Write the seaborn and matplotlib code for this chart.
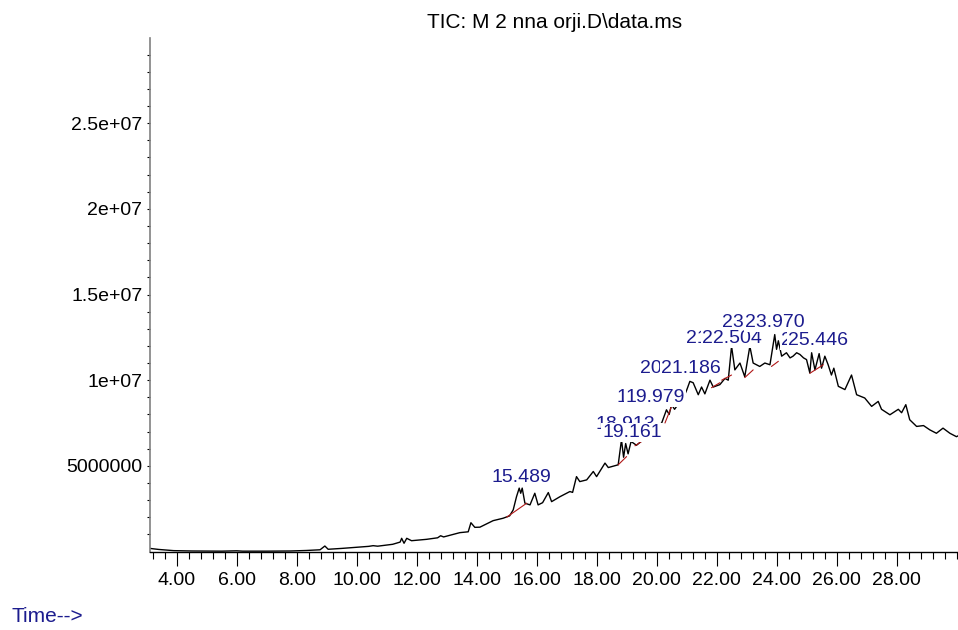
import numpy as np
import matplotlib
matplotlib.use("Agg")
import matplotlib.pyplot as plt
import seaborn as sns
import pandas as pd

# TIC trace: retention time (min) / abundance (millions)
rt = [3.11, 3.4, 3.9, 4.5, 5.5, 6.0, 6.2, 7.0, 7.8, 8.33, 8.78, 8.94, 9.05, 9.5,
      10.0, 10.4, 10.55, 10.7, 11.2, 11.45, 11.5, 11.58, 11.67, 11.83, 12.33, 12.7,
      12.8, 12.9, 13.44, 13.72, 13.81, 13.94, 14.11, 14.55, 14.88, 15.1, 15.22, 15.33,
      15.42, 15.47, 15.52, 15.61, 15.78, 15.94, 16.05, 16.2, 16.39, 16.5, 16.78, 17.11,
      17.2, 17.33, 17.44, 17.67, 17.89, 18.0, 18.28, 18.39, 18.72, 18.83, 18.9, 18.97,
      19.05, 19.15, 19.33, 19.55, 19.8, 20.0, 20.17, 20.33, 20.42, 20.5, 20.6, 20.72,
      20.85, 21.0, 21.11, 21.22, 21.39, 21.5, 21.61, 21.78, 21.89, 22.11, 22.28, 22.39,
      22.5, 22.61, 22.78, 22.94, 23.11, 23.22, 23.44, 23.61, 23.78, 23.94, 24.0, 24.06,
      24.17, 24.33, 24.45, 24.55, 24.67, 24.78, 24.9, 25.0, 25.11, 25.17, 25.28, 25.42,
      25.5, 25.61, 25.72, 25.83, 25.91, 26.06, 26.28, 26.5, 26.67, 26.94, 27.17, 27.39,
      27.5, 27.78, 28.06, 28.17, 28.31, 28.44, 28.67, 28.9, 29.11, 29.33, 29.55, 29.78,
      30.0, 30.05]
abund_m = [0.18, 0.12, 0.05, 0.03, 0.02, 0.04, 0.02, 0.02, 0.03, 0.06, 0.10, 0.32, 0.13, 0.18,
           0.25, 0.30, 0.34, 0.31, 0.42, 0.55, 0.77, 0.48, 0.77, 0.63, 0.71, 0.80,
           0.92, 0.85, 1.10, 1.15, 1.68, 1.41, 1.42, 1.80, 1.94, 2.08, 2.43, 3.2,
           3.7, 3.4, 3.7, 2.82, 2.72, 3.4, 2.72, 2.85, 3.44, 2.91, 3.2, 3.5,
           3.45, 4.37, 4.08, 4.18, 4.67, 4.37, 5.16, 4.9, 5.06, 6.52, 5.5, 6.3,
           5.7, 6.42, 6.2, 6.52, 7.0, 7.3, 7.5, 8.27, 8.0, 8.57, 8.3, 8.6,
           8.8, 9.4, 9.93, 9.85, 9.15, 9.6, 9.2, 10.0, 9.6, 9.74, 10.1, 10.0,
           11.98, 10.6, 11.0, 10.2, 11.98, 11.0, 10.8, 11.0, 10.9, 12.66, 11.8, 12.3,
           11.4, 11.6, 11.3, 11.4, 11.6, 11.5, 11.3, 11.2, 10.42, 11.6, 10.6, 11.55,
           10.7, 11.4, 10.9, 10.3, 10.7, 9.64, 9.45, 10.3, 9.15, 8.96, 8.47, 8.76,
           8.3, 7.98, 8.3, 8.1, 8.57, 7.69, 7.3, 7.35, 7.1, 6.9, 7.2, 6.9,
           6.7, 6.75]
abundance = np.array(abund_m) * 1e6

# integration baselines (start rt, start abundance, end rt, end abundance), millions
base_t0 = [15.0, 18.72, 19.28, 20.28, 21.83, 22.17, 22.94, 23.83, 25.11]
base_v0 = [2.0, 5.06, 6.17, 7.5, 9.56, 10.0, 10.15, 10.8, 10.4]
base_t1 = [15.67, 19.0, 19.5, 20.5, 22.11, 22.5, 23.22, 24.06, 25.56]
base_v1 = [2.82, 5.54, 6.42, 8.47, 9.85, 10.3, 10.6, 11.1, 10.9]

# peak labels, drawn in this order (later ones cover earlier ones)
peak_text = ["18.913", "19.652", "20.447", "21.781", "23.115", "25.172",
             "15.489", "19.161", "19.979", "21.186", "22.504", "23.970", "25.446"]
peak_x = [18.95, 19.65, 20.45, 21.98, 23.14, 25.15,
          15.48, 19.18, 19.95, 21.15, 22.51, 23.95, 25.38]
peak_y = [7.15, 8.73, 10.43, 12.17, 13.11, 12.06,
          4.06, 6.68, 8.73, 10.43, 12.17, 13.11, 12.06]

navy = "#1c1c8e"

sns.set_style("white")
plt.rcParams['font.family'] = ['Liberation Sans', 'DejaVu Sans']
plt.rcParams['text.color'] = 'black'
plt.rcParams['xtick.color'] = 'black'
plt.rcParams['ytick.color'] = 'black'

fig = plt.figure(figsize=(9.58, 6.3), dpi=100)
ax = fig.add_axes([150 / 958, 78.5 / 630, 808 / 958, 514 / 630])

df = pd.DataFrame({"rt": rt, "abundance": abundance})
sns.lineplot(data=df, x="rt", y="abundance", color="black", linewidth=1.0, ax=ax, zorder=2)

for t0, v0, t1, v1 in zip(base_t0, base_v0, base_t1, base_v1):
    ax.plot([t0, t1], [v0 * 1e6, v1 * 1e6], color="#b01818", linewidth=0.8, zorder=2.5)

for i, (s, x, y) in enumerate(zip(peak_text, peak_x, peak_y)):
    ax.text(x, y * 1e6, s, ha="center", va="baseline", fontsize=14, color=navy,
            bbox=dict(facecolor="white", edgecolor="none", boxstyle="square,pad=0.05"),
            zorder=4 + i)

ax.set_xlim(3.11, 30.05)
ax.set_ylim(0, 3.0e7)
ax.set_xlabel("")
ax.set_ylabel("")

xt = np.arange(4, 29, 2)
ax.set_xticks(xt)
ax.set_xticklabels([f"{v:.2f}" for v in xt])
ax.set_xticks(np.arange(3.2, 30.01, 0.4), minor=True)
ax.set_yticks([5e6, 1e7, 1.5e7, 2e7, 2.5e7])
ax.set_yticklabels(["5000000", "1e+07", "1.5e+07", "2e+07", "2.5e+07"])
ax.set_yticks(np.arange(1e6, 3.0e7, 1e6), minor=True)

ax.tick_params(axis="x", which="major", length=10, width=0.8, direction="out", pad=5,
               labelsize=14, bottom=True, colors="black")
ax.tick_params(axis="x", which="minor", length=4.7, width=0.8, direction="out", bottom=True)
ax.tick_params(axis="y", which="both", length=2.5, width=0.8, direction="out", pad=3,
               labelsize=14, left=True, colors="black")

sns.despine(ax=ax)
ax.spines["left"].set_color("#808080")
ax.spines["left"].set_linewidth(1.2)
ax.spines["bottom"].set_color("black")
ax.spines["bottom"].set_linewidth(1.0)

fig.text(555 / 958, 1 - 22 / 630, "TIC: M 2 nna orji.D\\data.ms", ha="center", va="center",
         fontsize=15, color="black")
fig.text(12 / 958, 1 - 617 / 630, "Time-->", ha="left", va="center", fontsize=15, color=navy)

fig.savefig("out.png", dpi=100)
